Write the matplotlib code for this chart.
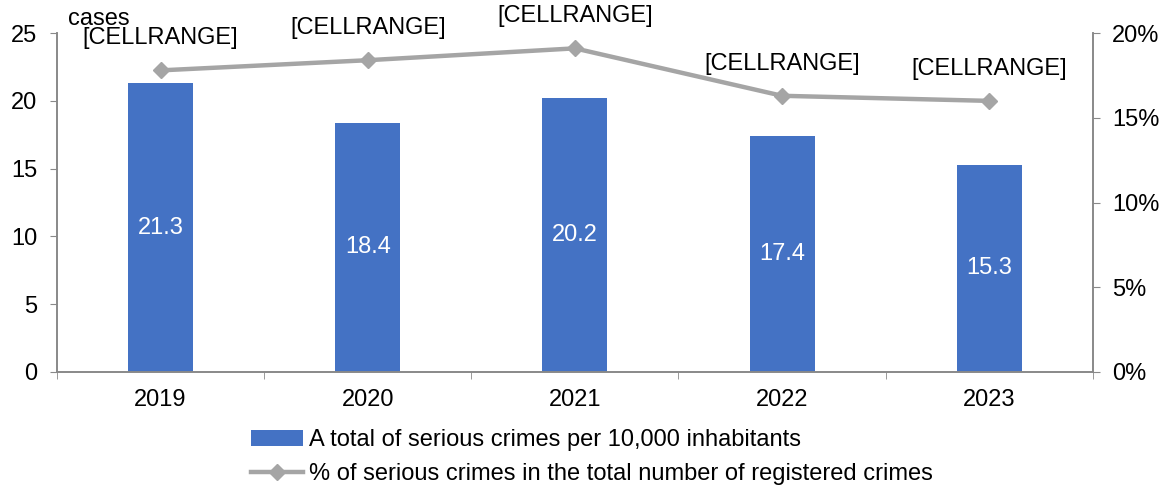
import numpy as np
import matplotlib
matplotlib.use('Agg')
from matplotlib import pyplot as plt
from matplotlib.ticker import FuncFormatter, FixedLocator

plt.rcParams['font.family'] = ['Liberation Sans', 'DejaVu Sans']

years = ['2019', '2020', '2021', '2022', '2023']
crimes_per_10k = [21.3, 18.4, 20.2, 17.4, 15.3]
share_pct = [17.8, 18.4, 19.1, 16.3, 16.0]
point_labels = ['[CELLRANGE]'] * 5

bar_label = 'A total of serious crimes per 10,000 inhabitants'
line_label = '% of serious crimes in the total number of registered crimes'

bar_color = '#4472C4'
line_color = '#A5A5A5'
axis_color = '#898989'
fs = 17

fig = plt.figure(figsize=(11.69, 4.94), dpi=100)
ax = fig.add_axes([0.0488, 0.247, 0.886, 0.686])
ax2 = ax.twinx()

x = np.arange(len(years))
bars = ax.bar(x, crimes_per_10k, width=0.314, color=bar_color, label=bar_label, zorder=2)
for xi, v in zip(x, crimes_per_10k):
    ax.text(xi, v / 2, f'{v:.1f}', ha='center', va='center', color='white', fontsize=fs)

line, = ax2.plot(x, share_pct, color=line_color, lw=3.2, marker='D', markersize=8,
                 label=line_label, zorder=3)
for xi, v, lab in zip(x, share_pct, point_labels):
    ax2.annotate(lab, (xi, v), xytext=(0, 23), textcoords='offset points',
                 ha='center', va='center', fontsize=fs)

ax.set_xlim(-0.5, 4.5)
ax.set_ylim(0, 25)
ax2.set_ylim(0, 20)
ax.set_yticks(np.arange(0, 26, 5))
ax2.set_yticks(np.arange(0, 21, 5))
ax2.yaxis.set_major_formatter(FuncFormatter(lambda v, p: f'{v:.0f}%'))

ax.set_xticks(x)
ax.set_xticklabels(years)
ax.xaxis.set_minor_locator(FixedLocator(np.arange(-0.5, 5, 1)))
ax.tick_params(axis='x', which='major', length=0, pad=12, labelsize=fs)
ax.tick_params(axis='x', which='minor', length=5, direction='out', color=axis_color)
ax.tick_params(axis='y', length=5, color=axis_color, labelsize=fs, pad=9)
ax2.tick_params(axis='y', length=5, color=axis_color, labelsize=fs, pad=9)

for a in (ax, ax2):
    a.spines['top'].set_visible(False)
    for s in ('left', 'right', 'bottom'):
        a.spines[s].set_color(axis_color)
        a.spines[s].set_linewidth(1.2)

fig.text(0.058, 0.962, 'cases', fontsize=fs, ha='left', va='center')

fig.legend([bars, line], [bar_label, line_label], loc='upper left',
           bbox_to_anchor=(0.207, 0.15), frameon=False, fontsize=fs,
           handlelength=2.2, handletextpad=0.25, labelspacing=0.5, borderaxespad=0)

fig.savefig('out.png', dpi=100)
